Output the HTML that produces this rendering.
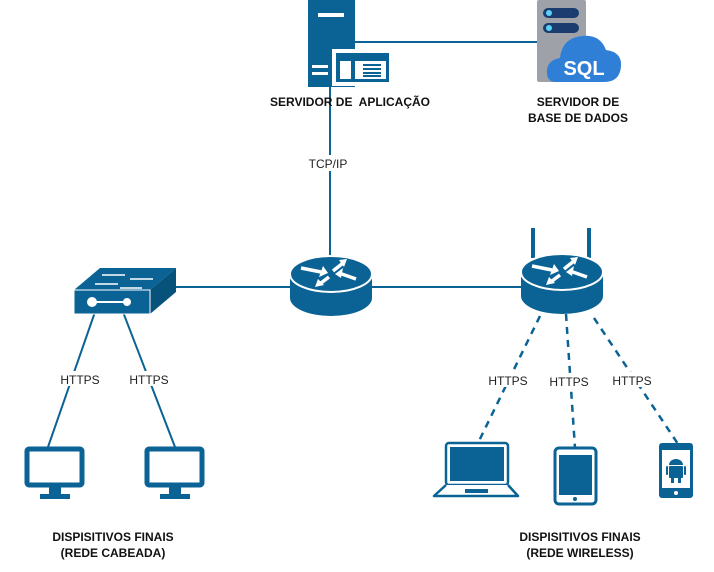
<!DOCTYPE html>
<html><head><meta charset="utf-8"><style>
html,body{margin:0;padding:0;background:#fff;}
svg{display:block;}
text{font-family:"Liberation Sans",Arial,sans-serif;}
.b{font-weight:bold;font-size:12px;fill:#111;}
.n{font-size:12px;fill:#222;}
</style></head><body>
<svg width="714" height="572" viewBox="0 0 714 572" xmlns="http://www.w3.org/2000/svg">
<defs>
<g id="rtr">
  <path d="M-41,0 L-41,24 A41,18 0 0 0 41,24 L41,0 Z" fill="#0a6394"/>
  <ellipse cx="0" cy="0" rx="41" ry="18" fill="#0a6394" stroke="#fff" stroke-width="2"/>
  <g stroke="#fff" stroke-width="3.5" fill="#fff">
    <line x1="-30" y1="-6" x2="-10" y2="-2"/><polygon points="-8,-8 -3,-1 -12,3" stroke-width="0"/>
    <line x1="25" y1="5" x2="8" y2="-1"/><polygon points="4,0 12,-6 10,4" stroke-width="0"/>
    <line x1="2" y1="-3" x2="12" y2="-11"/><polygon points="16,-15 8,-14 13,-7" stroke-width="0"/>
    <line x1="-2" y1="3" x2="-10" y2="9"/><polygon points="-16,13 -13,5 -7,11" stroke-width="0"/>
  </g>
</g>
</defs>
<!-- connectors -->
<g stroke="#0a6394" stroke-width="2" fill="none">
  <line x1="355" y1="42" x2="540" y2="42"/>
  <line x1="330" y1="86" x2="330" y2="258"/>
  <line x1="174" y1="287" x2="292" y2="287"/>
  <line x1="370" y1="287" x2="522" y2="287"/>
  <line x1="95" y1="312" x2="48" y2="447"/>
  <line x1="123" y1="312" x2="175" y2="447"/>
  <g stroke-dasharray="7,6" stroke-width="2.5">
    <line x1="540" y1="316" x2="478" y2="443"/>
    <line x1="566" y1="314" x2="575" y2="448"/>
    <line x1="594" y1="318" x2="678" y2="444"/>
  </g>
</g>
<!-- app server -->
<rect x="308" y="0" width="47" height="87" fill="#0a6394"/>
<rect x="318" y="13" width="26" height="4" fill="#fff"/>
<rect x="312" y="65" width="16" height="3" fill="#fff"/>
<rect x="312" y="72" width="16" height="3" fill="#fff"/>
<rect x="332" y="49" width="60" height="37" fill="#fff"/>
<rect x="336" y="53" width="53" height="29" fill="#0a6394"/>
<rect x="340" y="61" width="11" height="18" fill="#fff"/>
<rect x="355" y="61" width="31" height="18" fill="#fff"/>
<g fill="#0a6394"><rect x="363" y="64" width="18" height="2"/><rect x="363" y="68" width="18" height="2"/><rect x="363" y="72" width="18" height="2"/><rect x="363" y="75" width="18" height="2"/></g>
<!-- db -->
<rect x="537" y="0" width="49" height="82" rx="2" fill="#9ea2a8"/>
<rect x="543" y="8" width="36" height="10" rx="5" fill="#1a3c6e"/>
<rect x="543" y="23" width="36" height="10" rx="5" fill="#1a3c6e"/>
<circle cx="549" cy="13" r="3" fill="#5ad0f5"/><circle cx="549" cy="28" r="3" fill="#5ad0f5"/>
<path d="M556,82 Q546,82 547,70 Q548,60 560,58 Q562,38 582,36 Q600,34 606,50 Q622,52 621,66 Q620,82 604,82 Z" fill="#2f7fd6"/>
<text x="584" y="75" font-size="20" font-weight="bold" fill="#fff" text-anchor="middle">SQL</text>
<text class="b" x="350" y="106" text-anchor="middle" xml:space="preserve">SERVIDOR DE  APLICAÇÃO</text>
<text class="b" x="578" y="106" text-anchor="middle">SERVIDOR DE</text>
<text class="b" x="578" y="122" text-anchor="middle">BASE DE DADOS</text>
<rect x="302" y="155" width="54" height="16" fill="#fff"/>
<text class="n" x="328" y="168" text-anchor="middle">TCP/IP</text>
<!-- routers -->
<use href="#rtr" x="331" y="274"/>
<rect x="531" y="228" width="4" height="30" fill="#0a6394"/>
<rect x="587" y="228" width="4" height="30" fill="#0a6394"/>
<use href="#rtr" x="562" y="272"/>
<!-- switch -->
<polygon points="74,290 100,268 176,268 150,290" fill="#0a6394"/>
<polygon points="150,290 176,268 176,292 150,314" fill="#07527a"/>
<rect x="74" y="290" width="76" height="24" fill="#0a6394" stroke="#fff" stroke-width="1"/>
<g stroke="#fff" stroke-width="1.5"><line x1="102" y1="275" x2="125" y2="275"/><line x1="130" y1="279" x2="153" y2="279"/><line x1="95" y1="284" x2="118" y2="284"/><line x1="120" y1="288" x2="142" y2="288"/>
<line x1="92" y1="302" x2="127" y2="302" stroke-width="2"/></g>
<circle cx="92" cy="302" r="5" fill="#fff"/><circle cx="127" cy="302" r="4" fill="#fff"/>
<!-- HTTPS labels -->
<g class="n">
<rect x="56" y="371" width="48" height="15" fill="#fff"/><text class="n" x="80" y="384" text-anchor="middle">HTTPS</text>
<rect x="125" y="371" width="48" height="15" fill="#fff"/><text class="n" x="149" y="384" text-anchor="middle">HTTPS</text>
<rect x="484" y="372" width="48" height="15" fill="#fff"/><text class="n" x="508" y="385" text-anchor="middle">HTTPS</text>
<rect x="545" y="373" width="48" height="15" fill="#fff"/><text class="n" x="569" y="386" text-anchor="middle">HTTPS</text>
<rect x="608" y="372" width="48" height="15" fill="#fff"/><text class="n" x="632" y="385" text-anchor="middle">HTTPS</text>
</g>
<!-- monitors -->
<g fill="none" stroke="#0a6394" stroke-width="5">
<rect x="27" y="449" width="55" height="36" rx="2"/>
<rect x="147" y="449" width="55" height="36" rx="2"/>
</g>
<g fill="#0a6394">
<rect x="49" y="487" width="12" height="8"/><rect x="40" y="494" width="30" height="5"/>
<rect x="169" y="487" width="12" height="8"/><rect x="160" y="494" width="30" height="5"/>
</g>
<!-- laptop -->
<rect x="446" y="443" width="62" height="42" rx="3" fill="#fff" stroke="#0a6394" stroke-width="2.5"/>
<rect x="450" y="447" width="54" height="34" fill="#0a6394"/>
<path d="M446,485 L434,496 L518,496 L508,485" fill="#fff" stroke="#0a6394" stroke-width="2.5" stroke-linejoin="round"/>
<rect x="465" y="489" width="23" height="4" fill="#0a6394"/>
<!-- tablet -->
<rect x="555" y="448" width="41" height="56" rx="4" fill="#fff" stroke="#0a6394" stroke-width="3"/>
<rect x="559" y="455" width="33" height="40" fill="#0a6394"/>
<circle cx="575" cy="499" r="2" fill="#0a6394"/>
<!-- phone -->
<rect x="659" y="443" width="34" height="55" rx="3" fill="#0a6394"/>
<rect x="662" y="450" width="28" height="38" fill="#fff"/>
<circle cx="676" cy="493" r="2" fill="#fff"/>
<g fill="#0a6394"><path d="M669,465 A7,6 0 0 1 683,465 Z"/><rect x="669" y="466" width="14" height="12" rx="1"/><rect x="666" y="466" width="2" height="9" rx="1"/><rect x="684" y="466" width="2" height="9" rx="1"/><rect x="671" y="477" width="3" height="6"/><rect x="678" y="477" width="3" height="6"/></g>
<!-- bottom labels -->
<text class="b" x="113" y="541" text-anchor="middle">DISPISITIVOS FINAIS</text>
<text class="b" x="113" y="557" text-anchor="middle">(REDE CABEADA)</text>
<text class="b" x="580" y="541" text-anchor="middle">DISPISITIVOS FINAIS</text>
<text class="b" x="580" y="557" text-anchor="middle">(REDE WIRELESS)</text>
</svg>
</body></html>
